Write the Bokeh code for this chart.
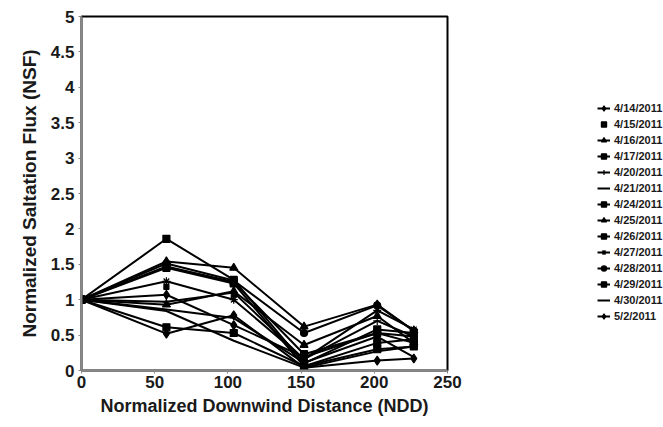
from bokeh.plotting import figure
from bokeh.models import Range1d, FixedTicker, Legend, LegendItem
from bokeh.embed import file_html
from bokeh.resources import INLINE

# Normalized downwind distance of each sampler
ndd = [0, 58, 104, 152, 202, 227]

dates = ["4/14/2011", "4/15/2011", "4/16/2011", "4/17/2011", "4/20/2011",
         "4/21/2011", "4/24/2011", "4/25/2011", "4/26/2011", "4/27/2011",
         "4/28/2011", "4/29/2011", "4/30/2011", "5/2/2011"]

# Normalized saltation flux per event
nsf_0414 = [1, 1.07, 0.64, 0.19, 0.53, 0.48]
nsf_0415 = [1, 1.18, 1.07, 0.11, 0.44, 0.44]
nsf_0416 = [1, 1.54, 1.45, 0.62, 0.93, 0.56]
nsf_0417 = [1, 1.86, 1.28, 0.10, 0.58, 0.53]
nsf_0420 = [1, 0.97, 1.10, 0.16, 0.70, 0.48]
nsf_0421 = [1, 0.84, 0.42, 0.04, 0.27, 0.34]
nsf_0424 = [1, 1.47, 1.25, 0.23, 0.53, 0.39]
nsf_0425 = [1, 0.93, 1.12, 0.36, 0.77, 0.39]
nsf_0426 = [1, 1.45, 1.23, 0.06, 0.39, 0.44]
nsf_0427 = [1, 1.26, 1.00, 0.16, 0.85, 0.58]
nsf_0428 = [1, 1.51, 1.27, 0.53, 0.92, 0.56]
nsf_0429 = [1, 0.61, 0.53, 0.06, 0.30, 0.34]
nsf_0430 = [1, 0.86, 0.74, 0.11, 0.48, 0.19]
nsf_0502 = [1, 0.52, 0.78, 0.04, 0.14, 0.17]

series = [nsf_0414, nsf_0415, nsf_0416, nsf_0417, nsf_0420, nsf_0421, nsf_0424,
          nsf_0425, nsf_0426, nsf_0427, nsf_0428, nsf_0429, nsf_0430, nsf_0502]

# (marker, size, fill, draw connecting line)
styles = [
    ("diamond", 9, "black", True),
    ("square", 5, "black", False),
    ("triangle", 8, "black", True),
    ("square", 7, "black", True),
    ("cross", 8, "black", True),
    (None, 0, "black", True),
    ("square", 7, "black", True),
    ("triangle", 8, "black", True),
    ("square", 7, "black", True),
    ("asterisk", 8, "white", True),
    ("circle", 7, "black", True),
    ("square", 7, "black", True),
    (None, 0, "black", True),
    ("diamond", 9, "black", True),
]

FONT = "Liberation Sans"

p = figure(width=663, height=427, output_backend="svg", toolbar_location=None,
           x_range=Range1d(0, 250), y_range=Range1d(0, 5),
           min_border_left=81, min_border_right=216,
           min_border_top=16, min_border_bottom=57)
p.frame_width = 366
p.frame_height = 354

p.grid.visible = False
p.outline_line_color = "black"
p.outline_line_width = 2
p.background_fill_color = "white"
p.border_fill_color = "white"

for ax in (p.xaxis[0], p.yaxis[0]):
    ax.axis_line_color = "#888888"
    ax.axis_line_width = 2
    ax.major_tick_line_color = "#888888"
    ax.major_tick_in = 0
    ax.major_tick_out = 3
    ax.minor_tick_line_color = None
    ax.major_label_text_font = FONT
    ax.major_label_text_font_style = "bold"
    ax.major_label_text_font_size = "17px"
    ax.major_label_text_color = "#1a1a1a"
    ax.axis_label_text_font = FONT
    ax.axis_label_text_font_style = "bold"
    ax.axis_label_text_color = "#1a1a1a"

p.xaxis.axis_label_text_font_size = "18px"
p.yaxis.axis_label_text_font_size = "19px"

p.xaxis.ticker = FixedTicker(ticks=[0, 50, 100, 150, 200, 250])
p.yaxis.ticker = FixedTicker(ticks=[0, 0.5, 1, 1.5, 2, 2.5, 3, 3.5, 4, 4.5, 5])
p.xaxis.axis_label = "Normalized Downwind Distance (NDD)"
p.yaxis.axis_label = "Normalized Saltation Flux (NSF)"
p.xaxis.major_label_standoff = 2
p.yaxis.major_label_standoff = 4
p.xaxis.axis_label_standoff = 5
p.yaxis.axis_label_standoff = 8

items = []
for label, ys, (mk, size, fill, has_line) in zip(dates, series, styles):
    rends = []
    if has_line:
        rends.append(p.line(ndd, ys, line_color="black", line_width=2))
    if mk is not None:
        rends.append(p.scatter(ndd, ys, marker=mk, size=size, fill_color=fill,
                               line_color="black", line_width=1.2))
    items.append(LegendItem(label=label, renderers=rends))

legend = Legend(items=items, location=(150, 46))
legend.label_text_font = FONT
legend.label_text_font_style = "bold"
legend.label_text_font_size = "11px"
legend.label_text_color = "#1a1a1a"
legend.glyph_width = 13
legend.glyph_height = 16
legend.label_height = 16
legend.label_standoff = 4
legend.spacing = 0
legend.padding = 0
legend.margin = 0
legend.border_line_color = None
legend.background_fill_alpha = 0
p.add_layout(legend, "right")

open("out.html", "w").write(file_html(p, INLINE))
